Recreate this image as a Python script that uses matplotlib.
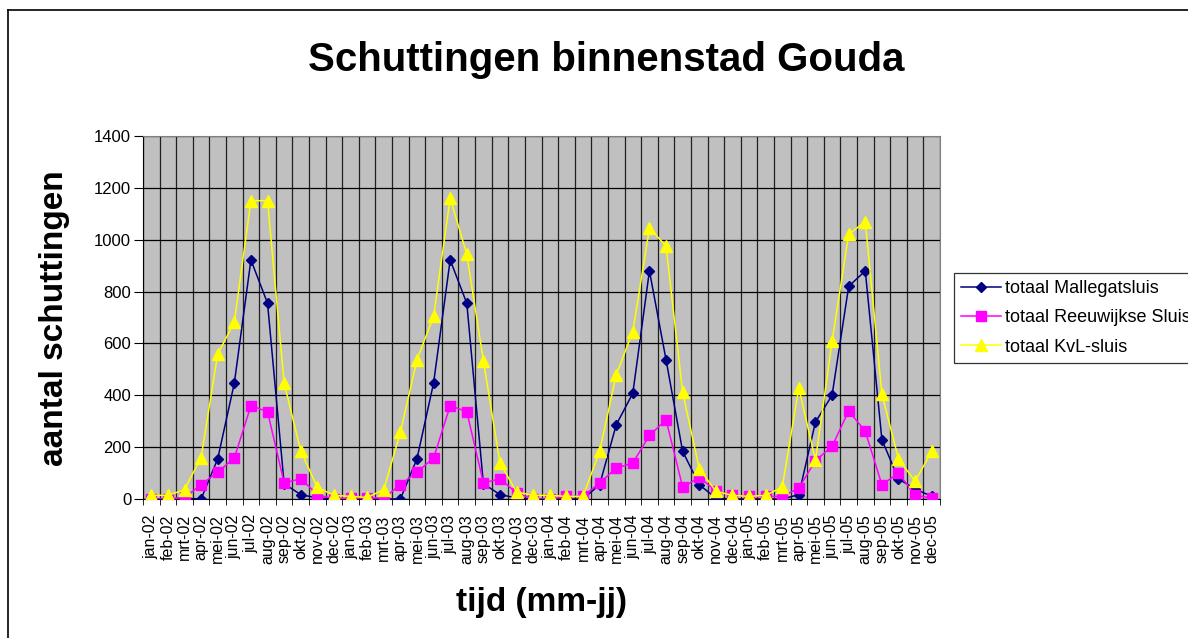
import numpy as np
import matplotlib
matplotlib.use("Agg")
import matplotlib.pyplot as plt
from matplotlib.lines import Line2D

plt.rcParams['font.family'] = ['Liberation Sans', 'DejaVu Sans']

# maanden jan-02 .. dec-05
maanden = ['jan', 'feb', 'mrt', 'apr', 'mei', 'jun', 'jul', 'aug', 'sep', 'okt', 'nov', 'dec']
labels = [f"{m}-{j:02d}" for j in (2, 3, 4, 5) for m in maanden]

mallegatsluis = [0, 0, 3, 0, 155, 447, 922, 755, 59, 17, 4, 0,
                 0, 0, 0, 0, 155, 447, 922, 755, 59, 17, 4, 0,
                 0, 0, 0, 55, 286, 408, 880, 537, 184, 55, 4, 0,
                 0, 0, 0, 17, 297, 400, 820, 880, 229, 77, 39, 10]

reeuwijkse = [0, 0, 6, 55, 104, 158, 360, 337, 62, 78, 17, 0,
              4, 4, 4, 55, 104, 158, 360, 337, 62, 78, 23, 0,
              0, 10, 10, 62, 119, 139, 245, 306, 46, 83, 32, 14,
              10, 10, 10, 42, 148, 203, 340, 261, 55, 100, 14, 4]

kvl = [14, 14, 36, 160, 559, 682, 1150, 1151, 447, 186, 45, 14,
       10, 6, 36, 257, 537, 704, 1160, 944, 534, 139, 27, 14,
       14, 10, 10, 184, 479, 646, 1044, 976, 412, 117, 30, 14,
       10, 14, 46, 428, 149, 608, 1021, 1070, 405, 155, 68, 184]

fig = plt.figure(figsize=(11.88, 6.38), dpi=100)
ax = fig.add_axes([143 / 1188, 1 - 499 / 638, 797 / 1188, 363 / 638])
ax.set_facecolor('#C0C0C0')

x = np.arange(len(labels))
ax.plot(x, mallegatsluis, color='#000080', marker='D', markersize=5.5, lw=1.1,
        label='totaal Mallegatsluis', zorder=3)
ax.plot(x, reeuwijkse, color='#FF00FF', marker='s', markersize=6.5, lw=1.1,
        label='totaal Reeuwijkse Sluis', zorder=4)
ax.plot(x, kvl, color='#FFFF00', marker='^', markersize=8, lw=1.1,
        label='totaal KvL-sluis', zorder=5)

ax.set_xlim(-0.5, len(labels) - 0.5)
ax.set_ylim(0, 1400)
ax.set_yticks(range(0, 1401, 200))
ax.set_xticks(x)
ax.set_xticklabels(labels, rotation=90, fontsize=11.5)
ax.set_xticks(np.arange(-0.5, len(labels), 1), minor=True)
ax.tick_params(axis='x', which='major', length=0, pad=11)
ax.tick_params(axis='x', which='minor', length=4, direction='out', color='black')
ax.tick_params(axis='y', length=6.5, direction='out', labelsize=12, pad=2)

ax.grid(True, axis='y', color='black', lw=0.9)
ax.grid(True, axis='x', which='minor', color='#202020', lw=0.9)
ax.set_axisbelow(True)
for side in ['top', 'right']:
    ax.spines[side].set_color('#808080')
for side in ['left', 'bottom']:
    ax.spines[side].set_color('black')

fig.text(541 / 1188, 1 - 603 / 638, 'tijd (mm-jj)', ha='center', va='center',
         fontsize=24, fontweight='bold')
fig.text(54 / 1188, 1 - 318 / 638, 'aantal schuttingen', ha='center', va='center',
         rotation=90, fontsize=24, fontweight='bold')
fig.text(606 / 1188, 1 - 60 / 638, 'Schuttingen binnenstad Gouda', ha='center', va='center',
         fontsize=29, fontweight='bold')

# legenda loopt net als in het origineel over de rechterrand
leg = fig.legend(loc='upper left', bbox_to_anchor=(954 / 1188, 1 - 273 / 638), fontsize=13,
                 frameon=True, fancybox=False, edgecolor='black', borderpad=0.4,
                 handlelength=2.2, handletextpad=0.2, labelspacing=0.68, borderaxespad=0)
leg.get_frame().set_linewidth(0.9)

# rand van het grafiekgebied
fig.add_artist(Line2D([8 / 1188, 8 / 1188], [0, 1 - 10 / 638], color='black', lw=1.2,
                      transform=fig.transFigure))
fig.add_artist(Line2D([8 / 1188, 1], [1 - 10 / 638, 1 - 10 / 638], color='black', lw=1.2,
                      transform=fig.transFigure))

fig.savefig('out.png', dpi=100)
